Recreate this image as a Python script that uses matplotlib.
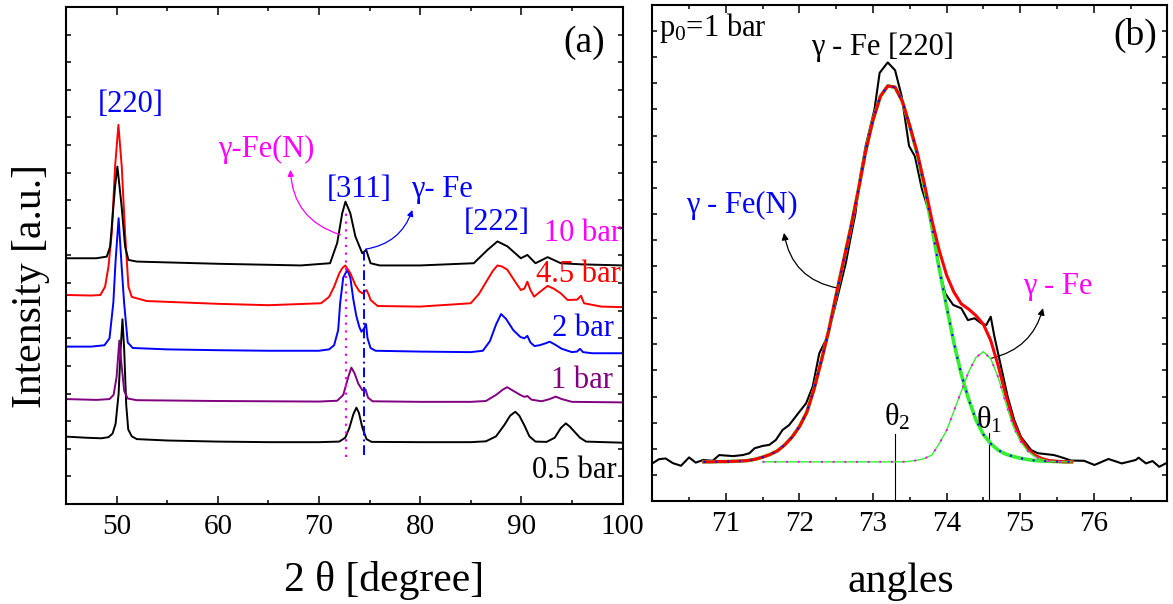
import matplotlib.pyplot as plt
from matplotlib.ticker import MultipleLocator, FixedLocator, NullFormatter

plt.rcParams['font.family'] = ['Liberation Serif', 'DejaVu Serif']
plt.rcParams['mathtext.fontset'] = 'custom'
plt.rcParams['mathtext.rm'] = 'Liberation Serif'
plt.rcParams['mathtext.it'] = 'Liberation Serif:italic'


# ---------------- (a) XRD patterns, stacked by nitriding pressure ----------------

tth_05 = [45.0, 47.0, 48.5, 49.2, 49.6, 49.9, 50.2, 50.4, 50.58, 50.75, 50.95, 51.15, 51.5, 52.0,
          55.0, 60.0, 65.0, 70.0, 72.0, 72.6, 73.0, 73.4, 73.7, 73.95, 74.3, 74.7, 75.2, 80.0,
          85.0, 86.5, 87.5, 88.3, 88.9, 89.4, 89.8, 90.3, 90.8, 91.4, 92.5, 93.3, 93.9, 94.4,
          94.8, 95.3, 95.8, 96.4, 100.0]
int_05 = [2.44, 2.40, 2.38, 2.42, 2.55, 2.9, 4.0, 5.6, 6.69, 5.6, 3.6, 2.7, 2.45, 2.35,
          2.30, 2.26, 2.24, 2.24, 2.26, 2.40, 2.75, 3.25, 3.49, 3.3, 2.75, 2.35, 2.25, 2.24,
          2.24, 2.27, 2.45, 2.85, 3.2, 3.34, 3.2, 2.85, 2.45, 2.26, 2.25, 2.4, 2.75, 2.92,
          2.8, 2.6, 2.4, 2.26, 2.22]

tth_1 = [45.0, 48.0, 49.3, 49.7, 50.0, 50.27, 50.5, 50.75, 51.1, 52.0, 60.0, 70.0, 71.8, 72.4,
         72.9, 73.2, 73.5, 73.9, 74.3, 74.6, 74.85, 75.3, 80.0, 85.0, 86.5, 87.5, 88.2, 88.6,
         89.2, 89.9, 90.3, 90.6, 91.0, 92.0, 92.8, 93.4, 94.0, 95.0, 100.0]
int_1 = [3.80, 3.77, 3.80, 3.95, 4.6, 5.92, 5.0, 4.1, 3.82, 3.76, 3.73, 3.71, 3.74, 3.95,
         4.6, 4.94, 4.75, 4.35, 4.12, 4.15, 3.85, 3.72, 3.70, 3.70, 3.73, 3.95, 4.15, 4.23,
         4.10, 3.95, 3.88, 3.91, 3.78, 3.72, 3.80, 3.89, 3.80, 3.70, 3.68]

tth_2 = [45.0, 47.5, 48.8, 49.3, 49.68, 49.9, 50.2, 50.5, 50.74, 51.1, 51.6, 55.0, 60.0, 65.0,
         70.0, 71.0, 71.5, 71.9, 72.1, 72.4, 72.8, 73.1, 73.4, 73.7, 74.0, 74.2, 74.45, 74.65,
         74.8, 75.1, 75.6, 80.0, 85.0, 86.2, 86.9, 87.5, 88.0, 88.5, 89.2, 89.9, 90.3, 90.6,
         90.9, 91.3, 91.8, 92.4, 92.8, 93.3, 94.0, 95.0, 95.5, 95.8, 96.1, 97.0, 100.0]
int_2 = [5.70, 5.70, 5.75, 6.0, 7.3, 8.8, 10.35, 8.6, 7.3, 5.85, 5.65, 5.60, 5.57, 5.55,
         5.55, 5.60, 5.75, 6.3, 7.3, 8.2, 8.48, 8.2, 7.4, 6.8, 6.4, 6.24, 6.35, 6.52,
         6.0, 5.65, 5.55, 5.52, 5.50, 5.55, 5.9, 6.5, 6.88, 6.7, 6.3, 6.05, 6.0, 6.09,
         5.85, 5.72, 5.75, 5.82, 5.88, 5.78, 5.62, 5.50, 5.52, 5.62, 5.50, 5.46, 5.46]

tth_45 = [45.0, 47.5, 48.4, 48.86, 49.2, 49.52, 49.85, 50.18, 50.51, 50.84, 51.17, 51.5, 53.0,
          60.0, 65.0, 70.2, 71.0, 71.5, 72.0, 72.3, 72.6, 73.1, 73.6, 74.0, 74.3, 74.7, 74.9,
          75.1, 75.8, 80.0, 85.0, 85.8, 86.65, 87.2, 87.64, 88.1, 88.63, 89.3, 89.95, 90.3,
          90.6, 90.9, 91.27, 91.9, 92.6, 93.2, 93.9, 94.57, 95.5, 95.9, 96.2, 97.9, 100.0]
int_45 = [7.57, 7.55, 7.57, 7.87, 8.6, 9.81, 12.22, 13.73, 12.22, 9.81, 7.87, 7.5, 7.35,
          7.25, 7.20, 7.27, 7.5, 7.87, 8.35, 8.54, 8.64, 8.36, 7.93, 7.7, 7.63, 7.75, 7.6,
          7.39, 7.17, 7.15, 7.27, 7.6, 8.12, 8.45, 8.64, 8.6, 8.48, 8.1, 7.75, 7.8,
          8.05, 7.75, 7.51, 7.7, 7.90, 7.8, 7.63, 7.39, 7.4, 7.54, 7.27, 7.15, 7.13]

tth_10 = [45.0, 48.0, 49.03, 49.36, 49.85, 50.08, 50.5, 50.84, 51.17, 52.0, 60.0, 68.2, 71.1,
          71.8, 72.3, 72.62, 73.1, 73.6, 74.28, 74.67, 75.1, 76.0, 80.0, 85.3, 86.65, 87.64,
          88.63, 89.95, 90.6, 91.4, 92.6, 93.9, 95.9, 100.0]
int_10 = [8.90, 8.90, 8.96, 9.32, 11.5, 12.22, 10.77, 9.32, 8.84, 8.78, 8.70, 8.64, 8.72,
          9.45, 10.53, 10.95, 10.53, 9.69, 9.08, 9.20, 8.72, 8.64, 8.64, 8.72, 9.20, 9.51,
          9.33, 8.90, 9.02, 8.72, 8.94, 8.72, 8.68, 8.64]

pressure_labels = ['0.5 bar', '1 bar', '2 bar', '4.5 bar', '10 bar']

# peak positions of the two phases in the [311] reflection
peak_fen = 72.7
peak_fe = 74.5


# ---------------- (b) [311] peak at 1 bar with its two-peak fit ----------------

raw_tth = [70.00, 70.09, 70.18, 70.28, 70.39, 70.50, 70.59, 70.69, 70.82, 70.91, 71.00, 71.10,
           71.23, 71.32, 71.39, 71.50, 71.59, 71.68, 71.77, 71.86, 72.00, 72.09, 72.18, 72.27,
           72.36, 72.45, 72.54, 72.63, 72.69, 72.76, 72.83, 72.90, 73.02, 73.09, 73.20, 73.30,
           73.39, 73.49, 73.57, 73.66, 73.78, 73.89, 73.98, 74.09, 74.20, 74.29, 74.38, 74.47,
           74.54, 74.60, 74.65, 74.74, 74.83, 74.92, 75.01, 75.15, 75.24, 75.46, 75.60, 75.69,
           75.87, 76.01, 76.20, 76.38, 76.57, 76.61, 76.71, 76.80, 76.89, 77.00]
raw_int = [1.44, 1.60, 1.63, 1.45, 1.35, 1.67, 1.47, 1.57, 1.54, 1.76, 1.74, 1.72,
           1.76, 1.83, 2.02, 2.11, 2.15, 2.34, 2.72, 2.91, 3.42, 3.74, 4.38, 5.66,
           6.17, 7.06, 8.08, 9.11, 10.0, 11.0, 12.5, 13.6, 15.0, 16.4, 16.8, 16.5,
           15.5, 13.6, 13.2, 12.0, 10.9, 9.0, 7.96, 7.51, 7.38, 6.93, 7.00, 6.81,
           6.74, 7.06, 6.30, 5.15, 4.00, 3.10, 2.46, 1.95, 1.83, 1.76, 1.64, 1.55,
           1.54, 1.38, 1.61, 1.44, 1.57, 1.66, 1.44, 1.53, 1.31, 1.47]

fit_tth = [70.7, 70.8, 70.9, 71.0, 71.1, 71.2, 71.3, 71.4, 71.5, 71.6, 71.7, 71.8, 71.9,
           72.0, 72.1, 72.2, 72.3, 72.4, 72.5, 72.6, 72.7, 72.8, 72.9, 73.0, 73.1, 73.2,
           73.3, 73.4, 73.5, 73.6, 73.7, 73.8, 73.9, 74.0, 74.1, 74.2, 74.3, 74.4, 74.5,
           74.6, 74.7, 74.8, 74.9, 75.0, 75.1, 75.2, 75.3, 75.4, 75.5, 75.6, 75.7]
fit_base = 1.50
# gamma-Fe(N) component
fit_fen = [1.50, 1.50, 1.51, 1.51, 1.52, 1.53, 1.55, 1.60, 1.68, 1.78, 1.92, 2.15, 2.45,
           2.85, 3.40, 4.30, 5.40, 6.55, 7.90, 9.20, 10.50, 11.90, 13.40, 14.60, 15.50, 15.90,
           15.85, 15.30, 14.35, 13.30, 12.00, 10.50, 8.90, 7.45, 6.05, 4.85, 3.90, 3.10, 2.55,
           2.20, 1.95, 1.80, 1.71, 1.64, 1.59, 1.55, 1.53, 1.52, 1.51, 1.50, 1.50]
# gamma-Fe component
fit_fe = [1.50] * 28 + [1.52, 1.56, 1.63, 1.76, 2.20, 2.70, 3.45, 4.20, 4.95, 5.50, 5.72,
                        5.45, 4.75, 3.80, 2.90, 2.30, 1.92, 1.70, 1.59, 1.53, 1.51, 1.50, 1.50]
fit_sum = [a + b - fit_base for a, b in zip(fit_fen, fit_fe)]

theta_2 = 73.3
theta_1 = 74.58


W, H = 1173, 604
fig = plt.figure(figsize=(W / 100, H / 100), dpi=100)
ax1 = fig.add_axes([66 / W, (H - 504) / H, 556.5 / W, 497 / H])
ax2 = fig.add_axes([652.3 / W, (H - 501) / H, 515 / W, 496 / H])

GREEN = '#33ee33'
PURPLE = '#800080'


def frame(ax):
    for sp in ax.spines.values():
        sp.set_linewidth(1.5)
    ax.tick_params(which='both', direction='in', top=True, right=True, width=1.1,
                   labelsize=21, pad=7)
    ax.tick_params(axis='x', which='major', length=5.5)
    ax.tick_params(axis='x', which='minor', length=3)
    ax.tick_params(axis='y', which='both', length=3.6)
    ax.yaxis.set_major_formatter(NullFormatter())


# --- panel (a)
frame(ax1)
ax1.set_xlim(45, 100)
ax1.set_ylim(0, 18)
ax1.xaxis.set_major_locator(MultipleLocator(10))
ax1.xaxis.set_minor_locator(MultipleLocator(5))
ax1.yaxis.set_major_locator(MultipleLocator(1))

curves = [(tth_05, int_05, 'black'), (tth_1, int_1, PURPLE), (tth_2, int_2, 'blue'),
          (tth_45, int_45, 'red'), (tth_10, int_10, 'black')]
for x, y, c in curves:
    ax1.plot(x, y, color=c, lw=1.4)

ax1.plot([peak_fen, peak_fen], [1.70, 10.72], color='magenta', lw=1.6, ls=(0, (1, 2.5)))
ax1.plot([peak_fe, peak_fe], [1.78, 9.2], color='blue', lw=1.4, ls=(0, (5, 2, 1, 2)))

lab_y = [1.20, 4.49, 6.34, 8.30, 9.78]
lab_x = [99.46, 99.06, 99.16, 99.85, 99.85]
lab_c = ['black', PURPLE, 'blue', 'red', 'magenta']
for t, x, y, c in zip(pressure_labels, lab_x, lab_y, lab_c):
    ax1.text(x, y, t, color=c, fontsize=22, ha='right', va='center')

ax1.text(51.44, 14.46, '[220]', color='blue', fontsize=22, ha='center', va='center')
ax1.text(73.96, 11.39, '[311]', color='blue', fontsize=22, ha='center', va='center')
ax1.text(87.57, 10.18, '[222]', color='blue', fontsize=22, ha='center', va='center')
ax1.text(64.8, 12.83, 'γ-Fe(N)', color='magenta', fontsize=22, ha='center', va='center')
ax1.text(82.13, 11.38, 'γ- Fe', color='blue', fontsize=22, ha='center', va='center')
ax1.text(96.19, 16.70, '(a)', fontsize=27, ha='center', va='center')

ax1.annotate('', xy=(67.18, 12.10), xytext=(72.13, 9.75),
             arrowprops=dict(arrowstyle='-|>', color='magenta', lw=0.9, mutation_scale=9,
                             shrinkA=0, shrinkB=0, connectionstyle='arc3,rad=-0.35'))
ax1.annotate('', xy=(79.23, 10.65), xytext=(74.6, 9.23),
             arrowprops=dict(arrowstyle='-|>', color='blue', lw=0.9, mutation_scale=9,
                             shrinkA=0, shrinkB=0, connectionstyle='arc3,rad=0.3'))

# --- panel (b)
frame(ax2)
ax2.set_xlim(70, 77)
ax2.set_ylim(0, 19)
ax2.xaxis.set_major_locator(FixedLocator([71, 72, 73, 74, 75, 76]))
ax2.xaxis.set_minor_locator(MultipleLocator(0.5))
ax2.yaxis.set_major_locator(MultipleLocator(1))

ax2.plot(raw_tth, raw_int, color='black', lw=1.5, zorder=2)
ax2.plot(fit_tth, fit_fen, color=GREEN, lw=2.6, zorder=3)
ax2.plot(fit_tth, fit_sum, color='red', lw=2.2, zorder=4)
ax2.plot(fit_tth[8:], fit_fe[8:], color=GREEN, lw=1.0, zorder=5)
ax2.plot(fit_tth, fit_fen, color='blue', lw=1.4, ls=(0, (1, 5)), zorder=6)
ax2.plot(fit_tth[8:], fit_fe[8:], color='magenta', lw=1.4, ls=(0, (1, 5)), zorder=7)

ax2.plot([theta_2, theta_2], [0, 2.57], color='black', lw=0.8)
ax2.plot([theta_1, theta_1], [0, 2.62], color='black', lw=0.8)
ax2.text(73.33, 3.2, 'θ$_2$', fontsize=22, ha='center', va='center')
ax2.text(74.58, 3.1, 'θ$_1$', fontsize=22, ha='center', va='center')

ax2.text(70.09, 18.12, 'p$_0$=1 bar', fontsize=22, ha='left', va='center')
ax2.text(73.13, 17.39, 'γ - Fe [220]', fontsize=22, ha='center', va='center')
ax2.text(76.56, 17.85, '(b)', fontsize=27, ha='center', va='center')
ax2.text(71.22, 11.34, 'γ - Fe(N)', color='blue', fontsize=22, ha='center', va='center')
ax2.text(75.51, 8.2, 'γ - Fe', color='magenta', fontsize=22, ha='center', va='center')

ax2.annotate('', xy=(71.79, 10.27), xytext=(72.53, 8.15),
             arrowprops=dict(arrowstyle='-|>', color='black', lw=0.9, mutation_scale=10,
                             shrinkA=0, shrinkB=0, connectionstyle='arc3,rad=-0.35'))
ax2.annotate('', xy=(75.31, 7.39), xytext=(74.61, 5.47),
             arrowprops=dict(arrowstyle='-|>', color='black', lw=0.9, mutation_scale=10,
                             shrinkA=0, shrinkB=0, connectionstyle='arc3,rad=0.3'))

# axis titles
fig.text(31 / W, 1 - 286 / H, 'Intensity [a.u.]', fontsize=30, rotation=90,
         ha='center', va='center')
fig.text(384 / W, 1 - 580 / H, '2 θ [degree]', fontsize=30, ha='center', va='center')
fig.text(901 / W, 1 - 582 / H, 'angles', fontsize=30, ha='center', va='center')

fig.savefig('out.png', dpi=100)
